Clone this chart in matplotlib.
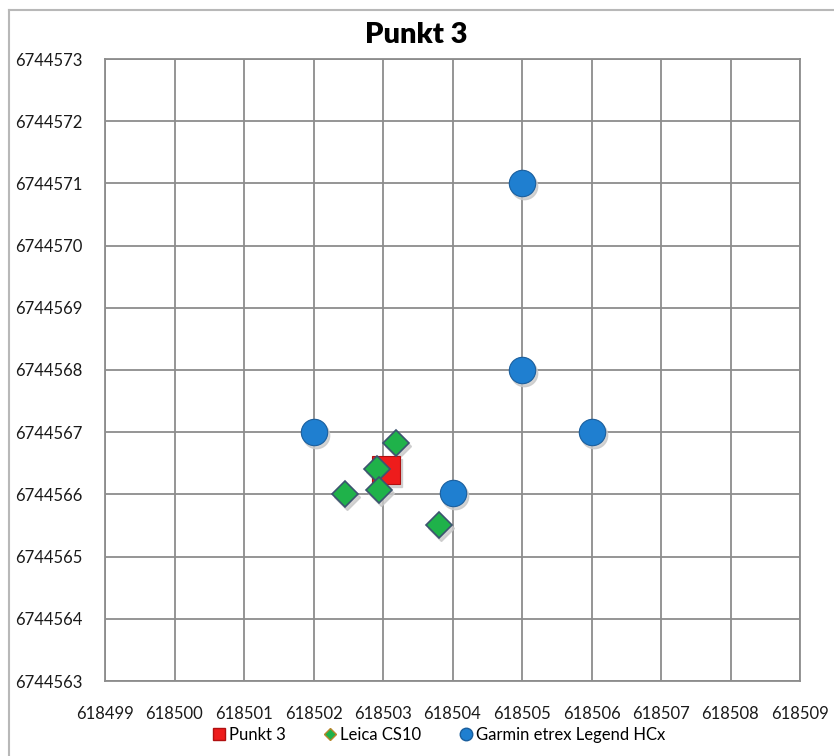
# Punkt 3: Leica CS10 vs Garmin etrex Legend HCx positions
import matplotlib.pyplot as plt
import matplotlib.transforms as mtransforms
from matplotlib.lines import Line2D

plt.rcParams["font.family"] = ["Lato", "DejaVu Sans"]

# Data
punkt_x = [618503.04]
punkt_y = [6744566.39]

leica_x = [618503.18, 618502.91, 618502.94, 618502.46, 618503.80]
leica_y = [6744566.82, 6744566.41, 6744566.07, 6744566.00, 6744565.51]

garmin_x = [618502.0, 618504.0, 618505.0, 618505.0, 618506.0]
garmin_y = [6744567.0, 6744566.03, 6744568.0, 6744571.0, 6744567.0]

x_ticks = list(range(618499, 618510))
y_ticks = list(range(6744563, 6744574))

GRID = "#8c8c8c"

fig = plt.figure(figsize=(8.34, 7.56), dpi=100)
ax = fig.add_axes([105 / 834, 75 / 756, 695 / 834, 622 / 756])

# chart area frame (Excel screenshot)
fig.add_artist(Line2D([9 / 834, 9 / 834], [0, 1 - 10 / 756], color="#b8b8b8", lw=1.5))
fig.add_artist(Line2D([9 / 834, 1], [1 - 10 / 756, 1 - 10 / 756], color="#b8b8b8", lw=1.5))

def shadow(dx, dy):
    return ax.transData + mtransforms.ScaledTranslation(dx / 100, dy / 100, fig.dpi_scale_trans)

# shadows
sh = shadow(2, -3)
ax.plot(garmin_x, garmin_y, "o", ms=19, color="#c8c8c8", alpha=0.8, transform=sh, zorder=2)
ax.plot(leica_x, leica_y, "D", ms=13.2, color="#c8c8c8", alpha=0.8, transform=sh, zorder=2)
ax.plot(punkt_x, punkt_y, "s", ms=19.5, color="#c8c8c8", alpha=0.8, transform=sh, zorder=2)

ax.plot(garmin_x, garmin_y, "o", ms=19, color="#1f7fd0", mec="#1a5f9e", mew=0.8,
        zorder=3, label="Garmin etrex Legend HCx")
ax.plot(punkt_x, punkt_y, "s", ms=19.5, color="#ee1c1c", mec="#b01010", mew=0.8,
        zorder=4, label="Punkt 3")
ax.plot(leica_x, leica_y, "D", ms=13.2, color="#1fb24a", mec="#3c5470", mew=1.2,
        zorder=5, label="Leica CS10")

ax.set_xlim(x_ticks[0], x_ticks[-1])
ax.set_ylim(y_ticks[0], y_ticks[-1])
ax.set_xticks(x_ticks)
ax.set_yticks(y_ticks)
ax.xaxis.set_major_formatter(plt.FuncFormatter(lambda v, p: f"{int(round(v))}"))
ax.yaxis.set_major_formatter(plt.FuncFormatter(lambda v, p: f"{int(round(v))}"))
ax.tick_params(axis="both", length=0, colors="#1a1a1a")
ax.tick_params(axis="x", pad=18, labelsize=12)
ax.tick_params(axis="y", pad=16, labelsize=12)
ax.grid(True, color=GRID, lw=1.3)
ax.set_axisbelow(True)
for s in ax.spines.values():
    s.set_color(GRID)
    s.set_linewidth(1.3)

fig.text(416 / 834, 1 - 35 / 756, "Punkt 3", ha="center", va="center",
         fontsize=21, fontweight="heavy", color="#000000")

handles = [
    Line2D([], [], ls="", marker="s", ms=8, color="#ee1c1c", mec="#b01010"),
    Line2D([], [], ls="", marker="D", ms=6, color="#1fb24a", mec="#b8862c"),
    Line2D([], [], ls="", marker="o", ms=9, color="#1f7fd0", mec="#1a5f9e"),
]
fig.legend(handles, ["Punkt 3", "Leica CS10", "Garmin etrex Legend HCx"],
           loc="center", bbox_to_anchor=(438 / 834, 1 - 735 / 756), ncol=3,
           frameon=False, fontsize=12, handletextpad=0.1, columnspacing=2.2,
           handlelength=1.0)

fig.savefig("out.png", dpi=100)
